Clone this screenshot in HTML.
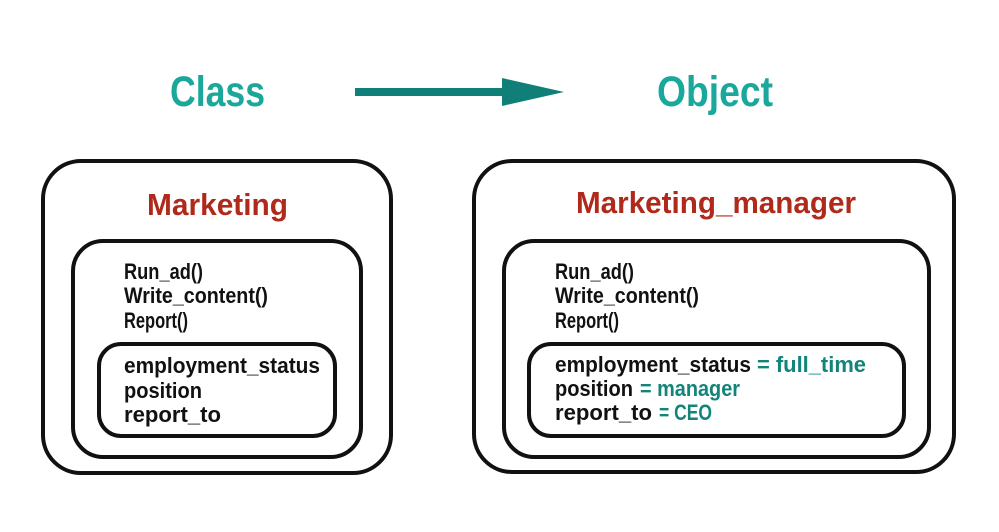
<!DOCTYPE html>
<html><head><meta charset="utf-8"><style>
html,body{margin:0;padding:0;background:#fff;width:999px;height:532px;overflow:hidden}
text{font-family:"Liberation Sans",sans-serif;font-weight:bold}
</style></head><body>
<svg width="999" height="532" viewBox="0 0 999 532" xmlns="http://www.w3.org/2000/svg">
<text x="170" y="106" font-size="43" fill="#1aa89c" textLength="95" lengthAdjust="spacingAndGlyphs">Class</text>
<text x="657" y="106" font-size="43" fill="#1aa89c" textLength="116" lengthAdjust="spacingAndGlyphs">Object</text>
<rect x="355" y="88" width="150" height="8" fill="#0f7f78"/>
<polygon points="502,78 564,92 502,106" fill="#0f7f78"/>
<g fill="none" stroke="#111" stroke-width="4">
<rect x="43" y="161" width="348" height="312" rx="38"/>
<rect x="73" y="241" width="288" height="216" rx="30"/>
<rect x="99" y="344" width="236" height="92" rx="22"/>
<rect x="474" y="161" width="480" height="311" rx="38"/>
<rect x="504" y="241" width="425" height="216" rx="30"/>
<rect x="529" y="344" width="375" height="92" rx="22"/>
</g>
<g font-size="31" fill="#b02a1c">
<text x="147" y="215" textLength="141" lengthAdjust="spacingAndGlyphs">Marketing</text>
<text x="576" y="213" textLength="280" lengthAdjust="spacingAndGlyphs">Marketing_manager</text>
</g>
<g font-size="22" fill="#111">
<text x="124" y="279" textLength="79" lengthAdjust="spacingAndGlyphs">Run_ad()</text>
<text x="124" y="303" textLength="144" lengthAdjust="spacingAndGlyphs">Write_content()</text>
<text x="124" y="328" textLength="64" lengthAdjust="spacingAndGlyphs">Report()</text>
<text x="124" y="373" textLength="196" lengthAdjust="spacingAndGlyphs">employment_status</text>
<text x="124" y="398" textLength="78" lengthAdjust="spacingAndGlyphs">position</text>
<text x="124" y="422" textLength="97" lengthAdjust="spacingAndGlyphs">report_to</text>
<text x="555" y="279" textLength="79" lengthAdjust="spacingAndGlyphs">Run_ad()</text>
<text x="555" y="303" textLength="144" lengthAdjust="spacingAndGlyphs">Write_content()</text>
<text x="555" y="328" textLength="64" lengthAdjust="spacingAndGlyphs">Report()</text>
<text x="555" y="372" textLength="196" lengthAdjust="spacingAndGlyphs">employment_status</text>
<text x="555" y="396" textLength="78" lengthAdjust="spacingAndGlyphs">position</text>
<text x="555" y="420" textLength="97" lengthAdjust="spacingAndGlyphs">report_to</text>
</g>
<g font-size="22" fill="#12847a">
<text x="757" y="372" textLength="109" lengthAdjust="spacingAndGlyphs">= full_time</text>
<text x="640" y="396" textLength="100" lengthAdjust="spacingAndGlyphs">= manager</text>
<text x="659" y="420" textLength="53" lengthAdjust="spacingAndGlyphs">= CEO</text>
</g>
</svg>
</body></html>
